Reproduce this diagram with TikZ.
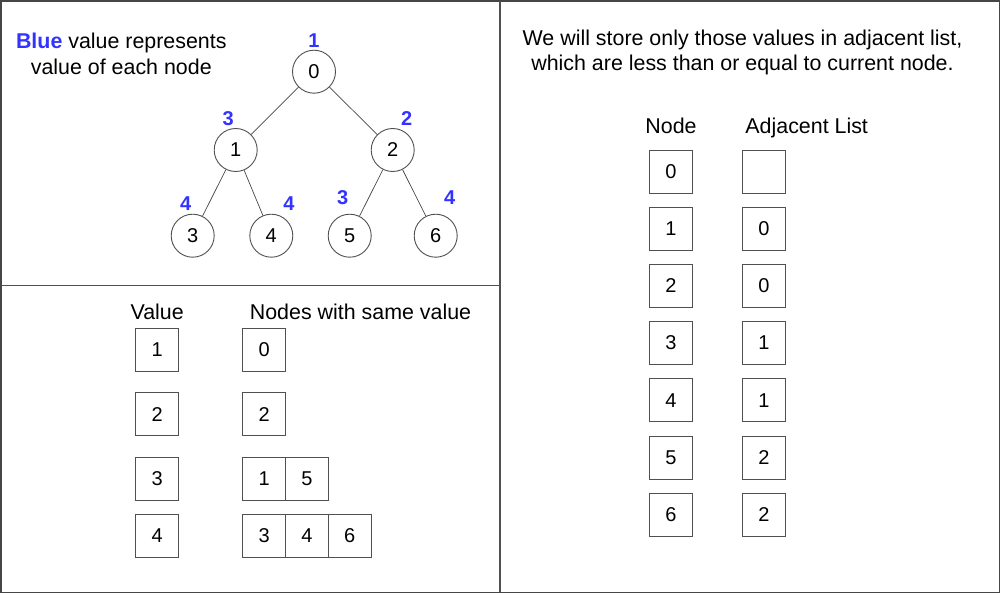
\documentclass[tikz,border=0pt]{standalone}
\usepackage{fontspec}
\setmainfont{Liberation Sans}
\definecolor{lblue}{RGB}{51,51,255}
\definecolor{lgray}{RGB}{80,80,80}
\definecolor{bgray}{RGB}{70,70,70}
\begin{document}
\begin{tikzpicture}[x=1pt,y=-1pt,
  txt/.style={font=\fontsize{21.4}{25.6}\selectfont, inner sep=0pt, align=center},
  tnode/.style={circle, draw=lgray, line width=0.9pt, minimum size=43pt, inner sep=0pt, font=\fontsize{20}{24}\selectfont},
  vlabel/.style={text=lblue, font=\fontsize{20}{24}\selectfont\bfseries, inner sep=0pt},
  cell/.style={draw=lgray, line width=0.9pt, minimum size=43pt, inner sep=0pt, font=\fontsize{20}{24}\selectfont},
  edge/.style={draw=bgray, line width=0.7pt},
  frame/.style={draw=bgray, line width=1.2pt}]
\useasboundingbox (0,0) rectangle (1000,594);
% frame
\coordinate (tl) at (1,1);
\coordinate (br) at (999.2,592.4);
\coordinate (vt) at (500,1);
\coordinate (vb) at (500,592.4);
\coordinate (hl) at (1,285.7);
\coordinate (hr) at (500,285.7);
\draw[frame] (tl) rectangle (br);
\draw[draw=lgray, line width=1.1pt] (vt) -- (vb);
\draw[draw=lgray, line width=1.1pt] (hl) -- (hr);
% top-left text
\node[txt, anchor=base] (blue) at (121.3,74.5) {\textcolor{lblue}{\bfseries Blue} value represents\\value of each node};
% tree
\node[tnode] (n0) at (314,71.7) {0};
\node[tnode] (n1) at (235.7,150) {1};
\node[tnode] (n2) at (392.7,150) {2};
\node[tnode] (n3) at (192.7,235.7) {3};
\node[tnode] (n4) at (271.3,235.7) {4};
\node[tnode] (n5) at (349.7,235.7) {5};
\node[tnode] (n6) at (435.7,235.7) {6};
\draw[edge] (n0) -- (n1);
\draw[edge] (n0) -- (n2);
\draw[edge] (n1) -- (n3);
\draw[edge] (n1) -- (n4);
\draw[edge] (n2) -- (n5);
\draw[edge] (n2) -- (n6);
\node[vlabel] (v0) at (314,40.5) {1};
\node[vlabel] (v1) at (228.3,119) {3};
\node[vlabel] (v2) at (406.7,119) {2};
\node[vlabel] (v3) at (185.7,204) {4};
\node[vlabel] (v4) at (289,204) {4};
\node[vlabel] (v5) at (342.7,197.3) {3};
\node[vlabel] (v6) at (449.7,197.3) {4};
% bottom-left tables
\node[txt, anchor=base] (hval) at (157.2,319) {Value};
\node[txt, anchor=base] (hsame) at (360.5,319) {Nodes with same value};
\node[cell] (a1) at (157.2,349.7) {1};
\node[cell] (a2) at (157.2,414.2) {2};
\node[cell] (a3) at (157.2,478.7) {3};
\node[cell] (a4) at (157.2,535.7) {4};
\node[cell] (b10) at (264.2,349.7) {0};
\node[cell] (b20) at (264.2,414.2) {2};
\node[cell] (b30) at (264.2,478.7) {1};
\node[cell] (b31) at (307,478.7) {5};
\node[cell] (b40) at (264.2,535.7) {3};
\node[cell] (b41) at (307,535.7) {4};
\node[cell] (b42) at (349.8,535.7) {6};
% right panel
\node[txt, anchor=base] (note) at (742.5,70.7) {We will store only those values in adjacent list,\\which are less than or equal to current node.};
\node[txt, anchor=base] (hnode) at (671,133.3) {Node};
\node[txt, anchor=base] (hadj) at (806.7,133.3) {Adjacent List};
\foreach \i/\a in {0/{},1/0,2/0,3/1,4/1,5/2,6/2} {
  \node[cell] (r\i) at (671,171.5+57.2*\i) {\i};
  \node[cell] (l\i) at (763.8,171.5+57.2*\i) {\a};
}
\end{tikzpicture}
\end{document}
